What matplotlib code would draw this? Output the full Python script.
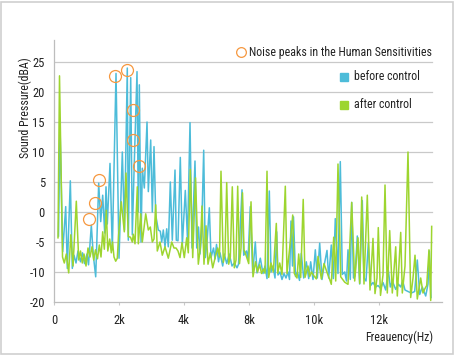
import numpy as np
import matplotlib.pyplot as plt
from matplotlib.patches import Rectangle

plt.rcParams['font.family'] = ['Roboto Condensed', 'Liberation Sans', 'DejaVu Sans']

# spectrum vertices (Hz, dBA)
freq_before = [138, 185, 268, 360, 409, 502, 563, 615, 677, 738, 815, 877, 938, 1015, 1062, 1148, 1206, 1283,
               1375, 1437, 1498, 1560, 1600, 1640, 1723, 1794, 1908, 2000, 2102, 2169, 2255, 2286, 2360, 2409,
               2462, 2554, 2594, 2625, 2677, 2717, 2779, 2862, 2902, 2975, 3025, 3077, 3129, 3209, 3271, 3314,
               3363, 3415, 3468, 3517, 3579, 3640, 3723, 3763, 3815, 3886, 3948, 4040, 4108, 4185, 4246, 4338,
               4391, 4446, 4492, 4538, 4606, 4655, 4708, 4779, 4831, 4908, 4954, 5000, 5062, 5108, 5191, 5240,
               5314, 5394, 5477, 5548, 5631, 5677, 5785, 5837, 5923, 5969, 6040, 6114, 6194, 6246, 6348, 6431,
               6492, 6554, 6625, 6677, 6738, 6800, 6852, 6892, 6954, 7015, 7077, 7138, 7200, 7246, 7292, 7338,
               7369, 7431, 7492, 7554, 7609, 7683, 7763, 7837, 7898, 7969, 8040, 8102, 8175, 8246, 8308, 8400,
               8452, 8532, 8594, 8655, 8738, 8809, 8871, 8945, 9000, 9046, 9117, 9160, 9215, 9262, 9332, 9406,
               9486, 9538, 9600, 9671, 9745, 9815, 9898, 9969, 10052, 10123, 10206, 10286, 10348, 10409, 10514,
               10594, 10668, 10729, 10800, 10892, 10994, 11098, 11178, 11252, 11332, 11437, 11508, 11548, 11600]
db_before = [-4, 14.2, -6.6, 0.9, -9.4, 5.2, -9.4, -7.2, -8.5, -6.5, -8.3, -6.8, -8.6, -7.0, -8.8, -2.2, -7.0, -11.6,
             4.8, -1.6, 2.8, -3.5, 4.2, -2.0, 8.1, -6.3, 23.1, -7.7, 10, -3, 24, -4.7, 22.4, -3.8,
             6.7, 23.4, 0, 21.2, -5, 7.3, 4, 15, 3.4, 12, 0, 10.9, -0.5, -3, -3.2, -5,
             -3, -5.8, -2.8, -5.8, 5, -4.7, 7, -4.7, -4.8, 9.1, -5.5, 3.6, -4.6, 14.9, -6, 8.5,
             -6, -2.5, -7, -4, 10.3, -7.6, -5, 0.7, -7.6, -6, -7.8, -5.4, -8.3, -6.8, -9, -7,
             -8.6, -7, -9, -8.5, -9.3, -8.7, 3.7, -7.2, -6.5, -8, 0.9, -10.3, -5, -10.3, -7.7, -10.5,
             -9, -12.2, 3.5, -10, -9, -12, -3.3, -11, -10, -12.5, -10.5, -12, -10, -12.5, -1.5, -9,
             -0.8, -11.5, -10, -12.8, -6.9, -12, -8.3, -12.2, -8.3, -12.5, -6.3, -12, -5.2, -12.5, -9, -6.4,
             -12, -5.5, -12.2, -1.1, -10.5, 8.4, -10.8, -10, -13, -6.3, -12.5, 1.6, -12, -11.3, -4, -14,
             1.9, -12, -13, -5.2, -14.5, -13.5, -15, -14.5, -15.5, -13.5, -16, -9.7, -15, -13, -15.8,
             -14, -15, -13, -16, -16.5, -17, -16.5, -8, -17.5, -15, -18, -14, -6.5, -18.5]

freq_after = [123, 169, 262, 317, 378, 452, 517, 585, 686, 760, 815, 871, 923, 985, 1046, 1108, 1169, 1222, 1277,
              1338, 1394, 1446, 1498, 1548, 1609, 1655, 1714, 1763, 1800, 1846, 1898, 1948, 1985, 2071, 2163,
              2215, 2286, 2354, 2409, 2440, 2492, 2563, 2594, 2668, 2717, 2822, 2902, 2963, 3025, 3077, 3129,
              3178, 3262, 3332, 3415, 3517, 3622, 3692, 3754, 3815, 3877, 3938, 4009, 4083, 4132, 4194, 4268,
              4354, 4440, 4501, 4554, 4615, 4677, 4738, 4809, 4883, 4963, 5037, 5092, 5138, 5209, 5262, 5314,
              5375, 5425, 5486, 5548, 5600, 5652, 5708, 5754, 5800, 5846, 5908, 5991, 6062, 6123, 6200, 6262,
              6329, 6385, 6446, 6492, 6554, 6606, 6677, 6748, 6840, 6883, 6945, 7015, 7117, 7169, 7271, 7345,
              7394, 7477, 7529, 7591, 7668, 7723, 7815, 7868, 7923, 7979, 8071, 8123, 8225, 8308, 8409, 8483,
              8532, 8606, 8668, 8738, 8822, 8945, 9046, 9160, 9252, 9354, 9406, 9468, 9538, 9640, 9723, 9815,
              9877, 9938, 9978, 10046, 10123, 10185, 10255, 10329, 10409, 10514, 10563, 10668, 10717, 10800,
              10892, 10975, 11046, 11108, 11178, 11283, 11354, 11415, 11468, 11538, 11591, 11621]
db_after = [-4.3, 22.7, -7.5, -8.5, -7, -10.3, -3.8, -9, 1.8, -8, -6.5, -8.5, -7, -9, -6, -7.5, -5.8, -8, -6.3,
            -7.8, -5.5, -7.5, -3.3, -6.2, 0.3, -6.5, -4.5, -6.8, -5, -7.5, -8.2, -7.7, -4, 1.7, -3.3,
            6.5, -4.1, -4.2, -5, -3.7, -5.3, 4.2, -5.3, -0.3, -5, -0.3, -3, -2.5, -5, -4.5, 1.2,
            -6.5, -5, -7.2, -5.8, -7.7, -5, -6, -6, -6.5, -7.6, -5.1, -7.6, -4.3, -6.8, 7.1, -7.6,
            5.7, -8.7, -6, 1.0, -8.7, -2.3, -8.7, -6.8, -9.3, -7.5, -6, -7.5, 6.8, -8.4, -7, 4.9,
            -8.7, -7.5, 4.2, -9.3, -8, 4.3, -8.6, -6, 3.2, -6.3, -7.2, -8.6, 1.7, -11.6, -8.3, -10,
            -8.8, -10.5, -9.5, -10.4, 6.8, -11.8, -8.5, -10, -1.9, -10.4, -8.5, -10.8, 4.3, -10.5, -5, -0.5,
            -10.5, -12, -7, -11.8, 2.1, -11.8, -9, -11.5, -10, -11, -12.3, -7.4, -12.3, -8.6, -10.4, -12.5,
            -14.1, -4.2, -13, 8, -11.6, -13.4, -14.1, 1.6, -13, -4.3, -13.8, 2.5, -14, 2.8, -16, -4.4,
            -17.2, -12, -2.6, -17.8, -11, 4.5, -17, -3.1, -17, -5.8, -18, -3.4, -17, -9,
            10, -18.5, -12, -7.2, -19, -12, -17, -15.5, -14.5, -6.3, -19.5, -2.4]

peak_freq = [1077, 1262, 1385, 1877, 2237, 2431, 2431, 2615]
peak_db = [-1.2, 1.5, 5.3, 22.7, 23.7, 17, 12, 7.7]

y_ticks = [25, 20, 15, 10, 5, 0, -5, -10, -20]
x_ticks = [0, 2000, 4000, 6000, 8000, 10000]
x_labels = ['0', '2k', '4k', '8k', '10k', '12k']

blue = '#4dbcd9'
green = '#9dd52f'
orange = '#f6983f'
grid_c = '#c9c9c9'
txt_c = '#222222'


# the band below -10 is squeezed to half height, as in the original
def fwd(v):
    v = np.asarray(v, dtype=float)
    return np.where(v >= -10, v, -10 + (v + 10) / 2)


def inv(u):
    u = np.asarray(u, dtype=float)
    return np.where(u >= -10, u, -10 + (u + 10) * 2)


fig = plt.figure(figsize=(4.55, 3.55), dpi=100)
ax = fig.add_axes([0.1187, 0.1493, 0.8527, 0.738])
ax.set_yscale('function', functions=(fwd, inv))
ax.set_ylim(-20, 28.67)
ax.set_xlim(0, 11938)

for y in y_ticks[:-1]:
    ax.axhline(y, xmax=0.974, color=grid_c, lw=0.9, zorder=0)

ax.plot(freq_before, db_before, color=blue, lw=1.1, zorder=2)
ax.plot(freq_after, db_after, color=green, lw=1.1, zorder=3)
ax.plot(peak_freq, peak_db, 'o', ms=8.6, mfc='none', mec=orange, mew=0.9, zorder=4)

ax.set_yticks(y_ticks)
ax.set_yticklabels([str(v) for v in y_ticks])
ax.set_xticks(x_ticks)
ax.set_xticklabels(x_labels)
ax.tick_params(axis='y', length=0, pad=6.5, labelsize=9, labelcolor=txt_c)
ax.tick_params(axis='x', length=2.5, width=0.8, color=grid_c, pad=6, labelsize=9, labelcolor=txt_c)
ax.minorticks_off()

for s in ['top', 'right']:
    ax.spines[s].set_visible(False)
for s in ['left', 'bottom']:
    ax.spines[s].set_color('#bdbdbd')
    ax.spines[s].set_linewidth(0.9)

# legend drawn by hand
ax.plot([0.482], [0.954], 'o', ms=7, mfc='none', mec=orange, mew=0.9, transform=ax.transAxes, clip_on=False)
ax.text(0.5026, 0.954, 'Noise peaks in the Human Sensitivities', transform=ax.transAxes,
        va='center', ha='left', fontsize=8.6, color=txt_c)
ax.plot([0.747], [0.859], 's', ms=5.5, color=blue, transform=ax.transAxes, clip_on=False)
ax.text(0.773, 0.859, 'before control', transform=ax.transAxes, va='center', ha='left', fontsize=8.6, color=txt_c)
ax.plot([0.747], [0.752], 's', ms=5.5, color=green, transform=ax.transAxes, clip_on=False)
ax.text(0.773, 0.752, 'after control', transform=ax.transAxes, va='center', ha='left', fontsize=8.6, color=txt_c)

fig.text(0.055, 0.696, 'Sound Pressure(dBA)', rotation=90, ha='center', va='center', fontsize=8.6, color=txt_c)
fig.text(0.952, 0.0507, 'Freauency(Hz)', ha='right', va='center', fontsize=8.6, color=txt_c)

fig.add_artist(Rectangle((0.003, 0.004), 0.993, 0.991, transform=fig.transFigure, fill=False,
                         edgecolor='#cfcfcf', lw=1.2))

fig.savefig('out.png', dpi=100)
